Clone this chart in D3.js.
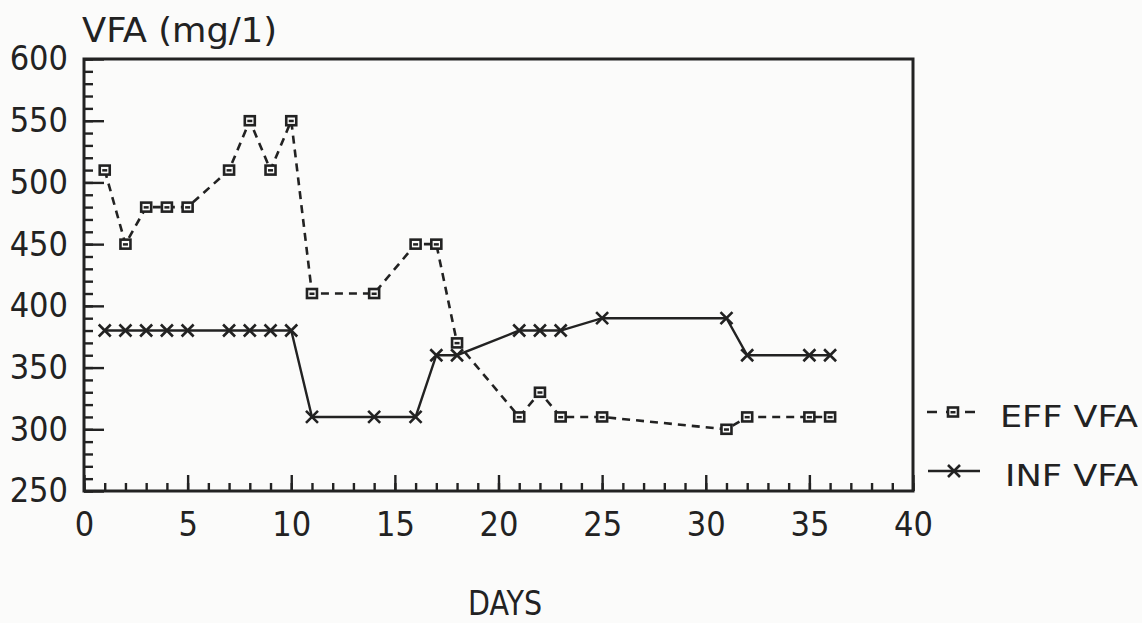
<!DOCTYPE html>
<html>
<head>
<meta charset="utf-8">
<script src="https://cdn.jsdelivr.net/npm/d3@7"></script>
<style>
  html, body { margin: 0; padding: 0; background: #fbfbfa; }
  svg { display: block; }
  text { font-family: "DejaVu Sans Condensed", "DejaVu Sans", sans-serif; font-stretch: condensed; fill: #222; }
</style>
</head>
<body>
<svg id="chart" width="1142" height="623"></svg>
<script>
// Sampling days and VFA concentrations (mg/l)
const effDays = [1, 2, 3, 4, 5, 7, 8, 9, 10, 11, 14, 16, 17, 18, 21, 22, 23, 25, 31, 32, 35, 36];
const effVfa  = [510, 450, 480, 480, 480, 510, 550, 510, 550, 410, 410, 450, 450, 370, 310, 330, 310, 310, 300, 310, 310, 310];
const infDays = [1, 2, 3, 4, 5, 7, 8, 9, 10, 11, 14, 16, 17, 18, 21, 22, 23, 25, 31, 32, 35, 36];
const infVfa  = [380, 380, 380, 380, 380, 380, 380, 380, 380, 310, 310, 310, 360, 360, 380, 380, 380, 390, 390, 360, 360, 360];

const xTicks = [0, 5, 10, 15, 20, 25, 30, 35, 40];
const yTicks = [250, 300, 350, 400, 450, 500, 550, 600];
const seriesNames = ["EFF VFA", "INF VFA"];
const yTitle = "VFA (mg/1)";
const xTitle = "DAYS";

const ink = "#222";
const paper = "#fbfbfa";
const svg = d3.select("#chart");

const x = d3.scaleLinear().domain([0, 40]).range([84, 913]);
const y = d3.scaleLinear().domain([250, 600]).range([491, 59]);

const effData = effDays.map((d, i) => ({ day: d, v: effVfa[i] }));
const infData = infDays.map((d, i) => ({ day: d, v: infVfa[i] }));

// Minor ticks (inward)
svg.append("g")
  .attr("transform", `translate(${x(0)},0)`)
  .call(d3.axisLeft(y).tickValues(d3.range(250, 601, 10)).tickSize(-9).tickFormat(""))
  .call(g => g.select(".domain").remove())
  .call(g => g.selectAll("line").attr("stroke", ink).attr("stroke-width", 2.4));
svg.append("g")
  .attr("transform", `translate(0,${y(250)})`)
  .call(d3.axisBottom(x).tickValues(d3.range(0, 41, 1)).tickSize(-8).tickFormat(""))
  .call(g => g.select(".domain").remove())
  .call(g => g.selectAll("line").attr("stroke", ink).attr("stroke-width", 2.4));

// Major ticks with labels
svg.append("g")
  .attr("transform", `translate(${x(0)},0)`)
  .call(d3.axisLeft(y).tickValues(yTicks).tickSize(-20).tickPadding(16).tickFormat(d3.format("d")))
  .call(g => g.select(".domain").remove())
  .call(g => g.selectAll("line").attr("stroke", ink).attr("stroke-width", 2.4))
  .call(g => g.selectAll("text").attr("font-size", 34).attr("fill", ink)
    .attr("font-family", null));
svg.append("g")
  .attr("transform", `translate(0,${y(250)})`)
  .call(d3.axisBottom(x).tickValues(xTicks).tickSize(-16).tickPadding(21).tickFormat(d3.format("d")))
  .call(g => g.select(".domain").remove())
  .call(g => g.selectAll("line").attr("stroke", ink).attr("stroke-width", 2.4))
  .call(g => g.selectAll("text").attr("font-size", 34).attr("fill", ink)
    .attr("font-family", null));

// Plot frame
svg.append("rect")
  .attr("x", x(0)).attr("y", y(600))
  .attr("width", x(40) - x(0)).attr("height", y(250) - y(600))
  .attr("fill", "none").attr("stroke", ink).attr("stroke-width", 3);

const line = d3.line().x(d => x(d.day)).y(d => y(d.v));

// Effluent series: dashed line with small squares
svg.append("path").datum(effData)
  .attr("d", line).attr("fill", "none")
  .attr("stroke", ink).attr("stroke-width", 2.6).attr("stroke-dasharray", "8,6");

function square(g, cx, cy) {
  g.append("rect").attr("x", cx - 5).attr("y", cy - 4.5).attr("width", 10).attr("height", 9)
    .attr("fill", paper).attr("stroke", ink).attr("stroke-width", 2.6);
  g.append("rect").attr("x", cx - 2.5).attr("y", cy - 1).attr("width", 5).attr("height", 2.5).attr("fill", ink);
}
function cross(g, cx, cy) {
  g.append("path")
    .attr("d", `M${cx - 6},${cy - 6}L${cx + 6},${cy + 6}M${cx - 6},${cy + 6}L${cx + 6},${cy - 6}`)
    .attr("stroke", ink).attr("stroke-width", 2.6).attr("fill", "none");
}

const effMarks = svg.append("g");
effData.forEach(d => square(effMarks, x(d.day), y(d.v)));

// Influent series: solid line with crosses
svg.append("path").datum(infData)
  .attr("d", line).attr("fill", "none")
  .attr("stroke", ink).attr("stroke-width", 2.4);
const infMarks = svg.append("g");
infData.forEach(d => cross(infMarks, x(d.day), y(d.v)));

// Titles
svg.append("text").attr("x", 82).attr("y", 42)
  .attr("font-size", 34).attr("textLength", 195).attr("lengthAdjust", "spacingAndGlyphs")
  .text(yTitle);
svg.append("text").attr("x", 468).attr("y", 615)
  .attr("font-size", 33).attr("textLength", 74).attr("lengthAdjust", "spacingAndGlyphs")
  .text(xTitle);

// Legend
const leg = svg.append("g");
leg.append("line").attr("x1", 927).attr("x2", 980).attr("y1", 412).attr("y2", 412)
  .attr("stroke", ink).attr("stroke-width", 2.4).attr("stroke-dasharray", "10,9");
square(leg, 953, 412);
leg.append("text").attr("x", 1000).attr("y", 427)
  .attr("font-size", 31).attr("textLength", 138).attr("lengthAdjust", "spacingAndGlyphs")
  .text(seriesNames[0]);
leg.append("line").attr("x1", 928).attr("x2", 980).attr("y1", 471).attr("y2", 471)
  .attr("stroke", ink).attr("stroke-width", 2.4);
cross(leg, 954, 471);
leg.append("text").attr("x", 1005).attr("y", 486)
  .attr("font-size", 31).attr("textLength", 133).attr("lengthAdjust", "spacingAndGlyphs")
  .text(seriesNames[1]);
</script>
</body>
</html>
